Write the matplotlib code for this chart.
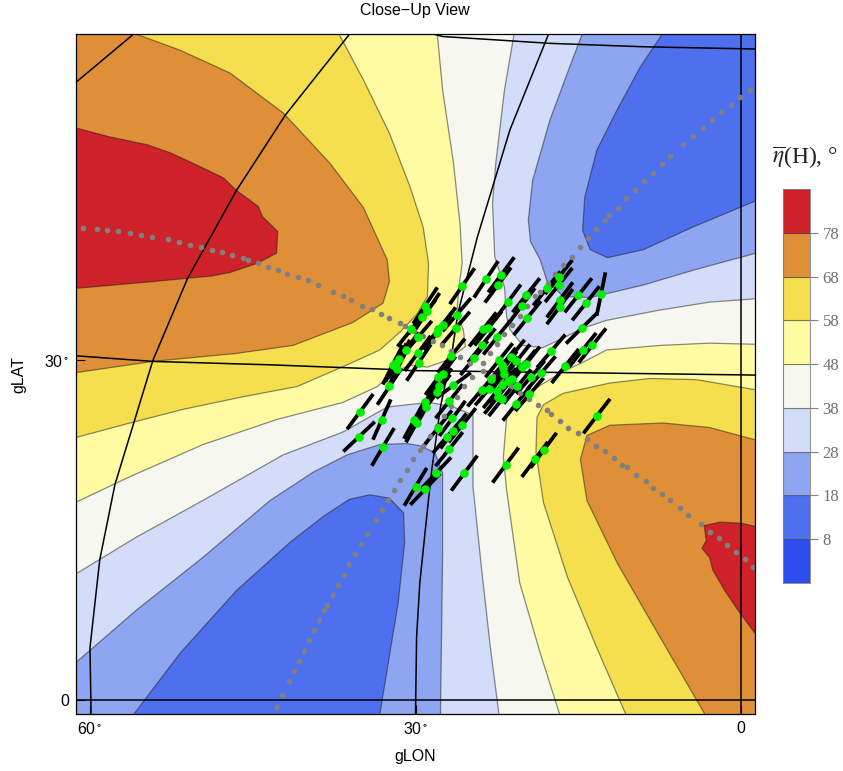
import numpy as np
import matplotlib
matplotlib.use("Agg")
import matplotlib.pyplot as plt

plt.rcParams['font.family'] = ['Liberation Sans', 'DejaVu Sans']
plt.rcParams['mathtext.fontset'] = 'stix'

# contour levels, (gLON, gLAT) in degrees
# upper left lobe of high values
tl48 = [(28.0, 58.5), (27.5, 53.5), (26.5, 47.1), (25.9, 41.8), (25.7, 38.3), (26.0, 36.2), (26.2, 33.9), (25.6, 32.5),
        (25.4, 31.0), (27.1, 29.8), (28.9, 29.2), (30.5, 29.4), (32.4, 28.5), (33.5, 27.5), (36.7, 26.1), (42.8, 24.6),
        (49.6, 22.4), (56.3, 19.6), (61.4, 17.3)]
tl58 = [(37.1, 58.5), (34.8, 54.4), (32.4, 49.7), (30.5, 45.0), (29.3, 41.5), (28.8, 38.3), (28.9, 35.4), (29.9, 33.8),
        (31.4, 32.3), (33.3, 30.7), (36.3, 29.4), (40.9, 27.5), (45.9, 26.6), (51.4, 25.5), (56.3, 24.3), (61.4, 23.0)]
tl68 = [(56.0, 58.5), (51.7, 57.0), (47.1, 55.0), (42.2, 51.5), (37.9, 47.1), (34.8, 43.2), (32.6, 38.6), (32.4, 36.7),
        (33.0, 34.8), (35.8, 33.1), (41.3, 31.1), (46.5, 30.4), (54.2, 29.7), (61.4, 28.7)]
tl78 = [(61.4, 50.2), (58.2, 49.4), (54.7, 48.7), (52.6, 48.0), (50.1, 46.9), (47.7, 45.8), (46.5, 44.7), (44.5, 43.3),
        (44.1, 42.4), (42.7, 41.1), (42.8, 39.2), (44.6, 38.3), (47.1, 37.5), (48.7, 37.2), (54.2, 36.7), (61.4, 36.1)]
# lower right lobe of high values
br48 = [(-1.4, 31.2), (2.9, 31.3), (7.5, 31.1), (12.4, 30.7), (14.2, 29.8), (16.4, 28.8), (18.5, 27.6), (20.4, 26.3),
        (21.6, 24.8), (21.9, 21.3), (21.6, 18.4), (20.4, 10.3), (18.5, 4.1), (16.7, -1.3)]
br58 = [(-1.4, 27.2), (4.1, 28.1), (8.4, 28.2), (12.1, 27.8), (16.4, 26.9), (18.2, 25.9), (18.8, 24.8), (18.9, 21.7),
        (18.2, 17.3), (16.0, 10.8), (13.3, 4.6), (10.6, -1.3)]
br68 = [(-1.4, 22.8), (2.9, 23.9), (7.2, 24.3), (12.1, 24.1), (14.2, 23.2), (14.8, 21.1), (14.2, 17.5), (11.4, 12.0),
        (7.7, 5.9), (3.3, -1.3)]
br78 = [(-1.4, 15.2), (-0.1, 15.5), (1.9, 15.6), (3.4, 15.3), (3.2, 14.0), (3.6, 13.3), (2.9, 12.5), (2.6, 11.4),
        (1.5, 9.6), (0.3, 7.9), (-1.4, 5.7)]
# upper right lobe of low values
tr38 = [(20.9, 58.5), (21.8, 53.5), (22.6, 47.1), (22.9, 43.6), (22.7, 38.9), (21.8, 36.2), (21.6, 33.6), (21.3, 32.5),
        (20.1, 31.1), (18.3, 30.9), (16.7, 31.6), (14.6, 32.6), (12.4, 33.3), (7.5, 34.2), (2.9, 34.9), (-1.4, 35.2)]
tr28 = [(14.6, 58.5), (15.8, 55.5), (17.6, 50.9), (19.2, 45.6), (19.6, 42.1), (19.4, 40.2), (18.5, 38.6), (17.9, 36.8),
        (16.4, 35.4), (13.9, 35.3), (9.0, 36.4), (4.4, 37.7), (-1.4, 39.2)]
tr18 = [(7.2, 58.5), (9.3, 55.5), (11.4, 51.8), (13.3, 48.2), (14.4, 44.1), (14.6, 41.2), (13.9, 39.5), (12.3, 38.8),
        (9.0, 39.5), (4.4, 41.5), (-1.4, 43.8)]
# lower left lobe of low values
bl38 = [(61.4, 11.0), (55.7, 14.3), (49.6, 17.5), (42.2, 21.5), (36.7, 23.5), (32.6, 25.7), (30.7, 25.9), (28.7, 26.1),
        (26.5, 25.7), (24.7, 25.0), (24.7, 18.7), (23.9, 11.4), (23.1, 4.6), (22.3, -1.3)]
bl28 = [(61.4, 3.2), (55.7, 7.9), (49.6, 12.5), (43.4, 17.5), (39.4, 20.0), (36.3, 21.5), (33.3, 22.4), (30.8, 22.5),
        (29.6, 22.3), (28.2, 21.7), (27.5, 19.9), (27.5, 12.9), (27.7, -1.3)]
bl18 = [(56.0, -1.3), (51.7, 4.1), (46.5, 9.6), (41.6, 13.8), (38.5, 16.1), (36.1, 17.6), (34.2, 18.0), (32.4, 17.7),
        (31.1, 16.4), (31.0, 13.8), (31.6, 8.5), (33.3, -1.3)]

# galactic grid lines
grid_lat_top = [(28.7, 58.5), (27.5, 58.2), (17.6, 57.6), (9.0, 57.3), (-1.4, 57.1)]
grid_lat_30 = [(61.4, 30.2), (54.2, 29.7), (43.4, 29.4), (32.4, 29.0), (30.5, 28.9), (-1.4, 28.5)]
grid_lon_corner = [(61.4, 54.1), (56.0, 58.4)]
grid_lon_60 = [(36.0, 58.5), (42.0, 51.3), (46.5, 44.7), (51.0, 37.0), (54.2, 29.8), (57.7, 18.9), (59.1, 12.3),
               (60.0, 4.6), (59.9, -1.3)]
grid_lon_30 = [(17.7, 58.5), (21.3, 50.0), (24.3, 40.6), (26.1, 33.9), (26.6, 30.7), (27.7, 25.7), (28.5, 20.2),
               (28.9, 16.7), (29.6, 10.3), (29.9, 5.5), (30.0, -1.3)]

# gray dotted tracks
track_a = [(60.6, 41.4), (59.4, 41.3), (58.4, 41.2), (57.4, 41.1), (56.3, 41.0), (55.3, 40.8), (54.3, 40.6), (52.8, 40.4),
           (51.8, 40.2), (50.8, 39.9), (49.8, 39.7), (48.8, 39.5), (47.8, 39.3), (46.9, 39.0), (45.9, 38.8), (45.4, 38.6),
           (44.5, 38.3), (43.6, 38.0), (42.7, 37.7), (41.8, 37.4), (40.8, 37.1), (39.9, 36.8), (39.0, 36.4), (37.6, 35.8),
           (36.7, 35.4), (35.9, 35.1), (34.9, 34.6), (34.0, 34.3), (33.2, 33.9), (32.4, 33.5), (31.4, 33.1), (31.0, 32.8),
           (30.1, 32.4), (29.3, 31.9), (28.4, 31.5), (27.6, 31.1), (26.7, 30.6), (25.9, 30.1), (25.0, 29.6), (23.8, 28.9),
           (22.9, 28.4), (22.0, 27.9), (21.2, 27.5), (20.4, 26.9), (19.5, 26.4), (18.7, 25.9), (17.9, 25.4), (17.5, 25.1),
           (16.7, 24.5), (15.9, 23.9), (15.0, 23.4), (14.2, 22.9), (13.4, 22.3), (12.5, 21.8), (11.7, 21.2), (11.0, 20.6),
           (10.5, 20.4), (9.7, 19.7), (8.8, 19.2), (8.1, 18.6), (7.3, 18.1), (6.5, 17.5), (5.6, 16.8), (4.9, 16.2),
           (3.7, 15.4), (2.9, 14.7), (2.0, 14.2), (1.3, 13.6), (0.5, 13.0), (-0.4, 12.4), (-1.1, 11.7)]
track_b = [(-0.8, 53.5), (0.1, 52.9), (0.9, 52.2), (1.8, 51.6), (2.7, 50.9), (3.5, 50.2), (4.4, 49.5), (5.3, 48.8),
           (6.5, 47.7), (7.3, 47.0), (8.1, 46.2), (8.9, 45.5), (9.8, 44.7), (10.6, 44.0), (11.3, 43.2), (12.2, 42.5),
           (12.5, 42.1), (13.4, 41.3), (14.1, 40.5), (14.8, 39.7), (15.6, 38.9), (16.4, 38.2), (17.1, 37.4), (17.8, 36.6),
           (18.5, 35.8), (19.0, 35.4), (19.7, 34.6), (20.4, 33.7), (21.1, 32.9), (21.8, 32.1), (22.5, 31.2), (23.1, 30.4),
           (23.8, 29.6), (24.8, 28.3), (25.5, 27.5), (26.2, 26.6), (26.7, 25.8), (27.4, 24.9), (28.0, 24.0), (28.7, 23.2),
           (29.3, 22.3), (29.6, 21.9), (30.2, 21.1), (30.8, 20.2), (31.4, 19.3), (32.0, 18.4), (32.5, 17.5), (33.1, 16.7),
           (33.6, 15.8), (34.5, 14.6), (35.0, 13.7), (35.6, 12.8), (36.1, 11.9), (36.6, 11.0), (37.1, 10.1), (37.6, 9.2),
           (38.2, 8.3), (38.4, 7.9), (38.9, 7.0), (39.4, 6.1), (39.8, 5.3), (40.3, 4.3), (40.7, 3.4), (41.2, 2.5),
           (41.7, 1.7), (42.3, 0.4), (42.8, -0.6)]

# measured points: gLON, gLAT, orientation of the bar in degrees
star_lon = [25.7, 23.5, 22.1, 22.4, 16.8, 16.8, 17.9, 19.8, 20.2, 21.5, 15.0, 14.3, 12.9, 16.7, 16.7, 19.7,
            14.7, 26.2, 29.1, 28.9, 29.4, 27.5, 26.3, 27.9, 28.0, 30.4, 29.8, 23.8, 23.3, 22.5, 23.9, 30.9,
            29.8, 29.7, 26.7, 24.6, 31.5, 31.8, 32.1, 31.7, 32.4, 27.9, 27.5, 27.8, 26.5, 22.3, 22.0, 21.9,
            21.8, 21.2, 20.7, 20.2, 19.8, 19.4, 18.4, 17.5, 16.2, 14.6, 13.7, 23.0, 21.5, 21.1, 22.0, 23.9,
            23.2, 22.5, 22.0, 22.4, 20.7, 19.5, 20.6, 35.1, 33.1, 35.2, 33.0, 28.0, 29.1, 29.0, 30.1, 29.9,
            26.9, 26.6, 25.7, 26.5, 27.9, 27.1, 26.9, 28.1, 25.5, 30.0, 29.1, 13.3, 18.2, 19.0, 21.7]
star_lat = [36.3, 36.9, 37.3, 36.4, 37.1, 36.4, 36.1, 35.5, 34.6, 34.9, 35.5, 34.8, 35.6, 35.1, 34.5, 33.5,
            32.6, 33.8, 34.6, 34.1, 33.6, 32.9, 32.6, 32.5, 32.2, 32.5, 31.8, 32.5, 32.6, 31.8, 31.1, 30.7,
            30.4, 29.6, 30.2, 30.0, 29.9, 29.6, 29.4, 29.0, 27.5, 28.3, 28.6, 27.5, 27.6, 29.8, 29.4, 29.1,
            28.6, 30.1, 29.7, 29.2, 29.5, 28.3, 28.7, 30.6, 29.3, 30.7, 31.1, 28.2, 28.0, 28.2, 27.6, 27.2,
            27.3, 27.1, 26.4, 26.6, 26.0, 26.8, 27.5, 25.3, 24.6, 23.1, 22.2, 27.0, 26.1, 25.7, 24.6, 24.3,
            26.2, 24.7, 24.1, 23.6, 23.9, 23.1, 22.0, 19.9, 19.9, 18.7, 18.5, 24.9, 21.9, 21.1, 20.6]
star_angle = [54, 55, 52, 52, 50, 50, 50, 50, 52, 52, 50, 50, 78, 52, 52, 50,
              43, 48, 55, 55, 50, 52, 48, 50, 50, 50, 48, 50, 50, 50, 50, 52,
              52, 55, 50, 50, 60, 60, 62, 62, 55, 52, 52, 55, 35, 50, 50, 50,
              50, 50, 50, 50, 50, 48, 48, 48, 50, 50, 50, 50, 50, 50, 50, 48,
              48, 50, 50, 50, 50, 48, 50, 52, 65, 42, 58, 52, 60, 60, 60, 60,
              50, 52, 50, 52, 50, 48, 50, 45, 52, 58, 45, 51, 52, 52, 52]
bar_half = 1.95

# colour bar
band_edges = [-2, 8, 18, 28, 38, 48, 58, 68, 78, 88]
band_ticks = [8, 18, 28, 38, 48, 58, 68, 78]
band_colors = ['#2C4EF0', '#4F70EE', '#8EA5F2', '#D3DDFA', '#F6F8F0', '#FEFBA3', '#F5DF4F', '#DF8F38', '#CF2129']

fig = plt.figure(figsize=(8.43, 7.71), dpi=100)
ax = fig.add_axes([76 / 843, 1 - 714 / 771, 679 / 843, 680 / 771])
ax.set_xlim(61.29, -1.29)
ax.set_ylim(-1.23, 58.42)
ax.set_facecolor(band_colors[4])

tl_corner = [(61.4, 58.5)]
br_corner = [(-1.4, -1.3)]
tr_corner = [(-1.4, 58.5)]
bl_corner = [(61.4, -1.3)]
lobes = [
    (tl48, tl_corner, band_colors[5]), (tl58, tl_corner, band_colors[6]),
    (tl68, tl_corner, band_colors[7]), (tl78, tl_corner, band_colors[8]),
    (br48, br_corner, band_colors[5]), (br58, br_corner, band_colors[6]),
    (br68, br_corner, band_colors[7]), (br78, br_corner, band_colors[8]),
    (tr38, tr_corner, band_colors[3]), (tr28, tr_corner, band_colors[2]), (tr18, tr_corner, band_colors[1]),
    (bl38, bl_corner, band_colors[3]), (bl28, bl_corner, band_colors[2]), (bl18, bl_corner, band_colors[1]),
]
for line, corner, color in lobes:
    xs, ys = np.array(line + corner).T
    ax.fill(xs, ys, facecolor=color, edgecolor=(0.1, 0.1, 0.1, 0.5), lw=0.9, zorder=1)

# grid lines
for line in [grid_lat_top, grid_lat_30, grid_lon_corner, grid_lon_60, grid_lon_30]:
    xs, ys = np.array(line).T
    ax.plot(xs, ys, color='black', lw=1.1, zorder=2)
ax.axhline(0, color='black', lw=1.1, zorder=2)
ax.axvline(0, color='black', lw=1.1, zorder=2)

# bars through the measured points
star_lon = np.array(star_lon)
star_lat = np.array(star_lat)
theta = np.radians(star_angle)
for x0, y0, t in zip(star_lon, star_lat, theta):
    ax.plot([x0 + bar_half * np.cos(t), x0 - bar_half * np.cos(t)],
            [y0 - bar_half * np.sin(t), y0 + bar_half * np.sin(t)],
            color='black', lw=2.7, solid_capstyle='butt', zorder=3)

for track in [track_a, track_b]:
    xs, ys = np.array(track).T
    ax.plot(xs, ys, ls='none', marker='o', ms=4, mfc='#808080', mec='none', zorder=4)

ax.plot(star_lon, star_lat, ls='none', marker='o', ms=6.2, mfc='#00F000', mec='none', zorder=5)

ax.set_xticks([60, 30, 0], ['60$\\,^{\\circ}$', '30$\\,^{\\circ}$', '0'])
ax.set_yticks([0, 29.8], ['0', '30$\\,^{\\circ}$'])
ax.tick_params(direction='in', length=6.5, width=0.8, labelsize=11.5, pad=5, zorder=6)
for side in ax.spines.values():
    side.set_linewidth(0.9)
    side.set_zorder(6)

fig.text(415 / 843, 1 - 11 / 771, 'Close\u2212Up View', ha='center', va='center', fontsize=11.5)
fig.text(415 / 843, 1 - 757 / 771, 'gLON', ha='center', va='center', fontsize=11.5)
fig.text(19 / 843, 1 - 374 / 771, 'gLAT', ha='center', va='center', rotation=90, fontsize=11.5)

# colour bar
cax = fig.add_axes([783 / 843, 1 - 583 / 771, 27 / 843, 394 / 771])
cax.set_xlim(0, 1)
cax.set_ylim(band_edges[0], band_edges[-1])
for low, high, color in zip(band_edges[:-1], band_edges[1:], band_colors):
    cax.bar(0.5, high - low, width=1, bottom=low, color=color, edgecolor=(0.2, 0.2, 0.2, 0.5), lw=0.8)
cax.set_xticks([])
cax.yaxis.tick_right()
cax.set_yticks(band_ticks, [str(v) for v in band_ticks], family='Liberation Serif', fontsize=12, color='#707070')
cax.tick_params(axis='y', length=6, width=0.8, color='#808080', pad=3)
for side in cax.spines.values():
    side.set_color('#808080')
    side.set_linewidth(0.6)

fig.text(772 / 843, 1 - 157 / 771, r'$\overline{\eta}$(H), °', ha='left', va='center',
         family='Liberation Serif', fontsize=17, color='#222222')

fig.savefig('out.png', dpi=100)
